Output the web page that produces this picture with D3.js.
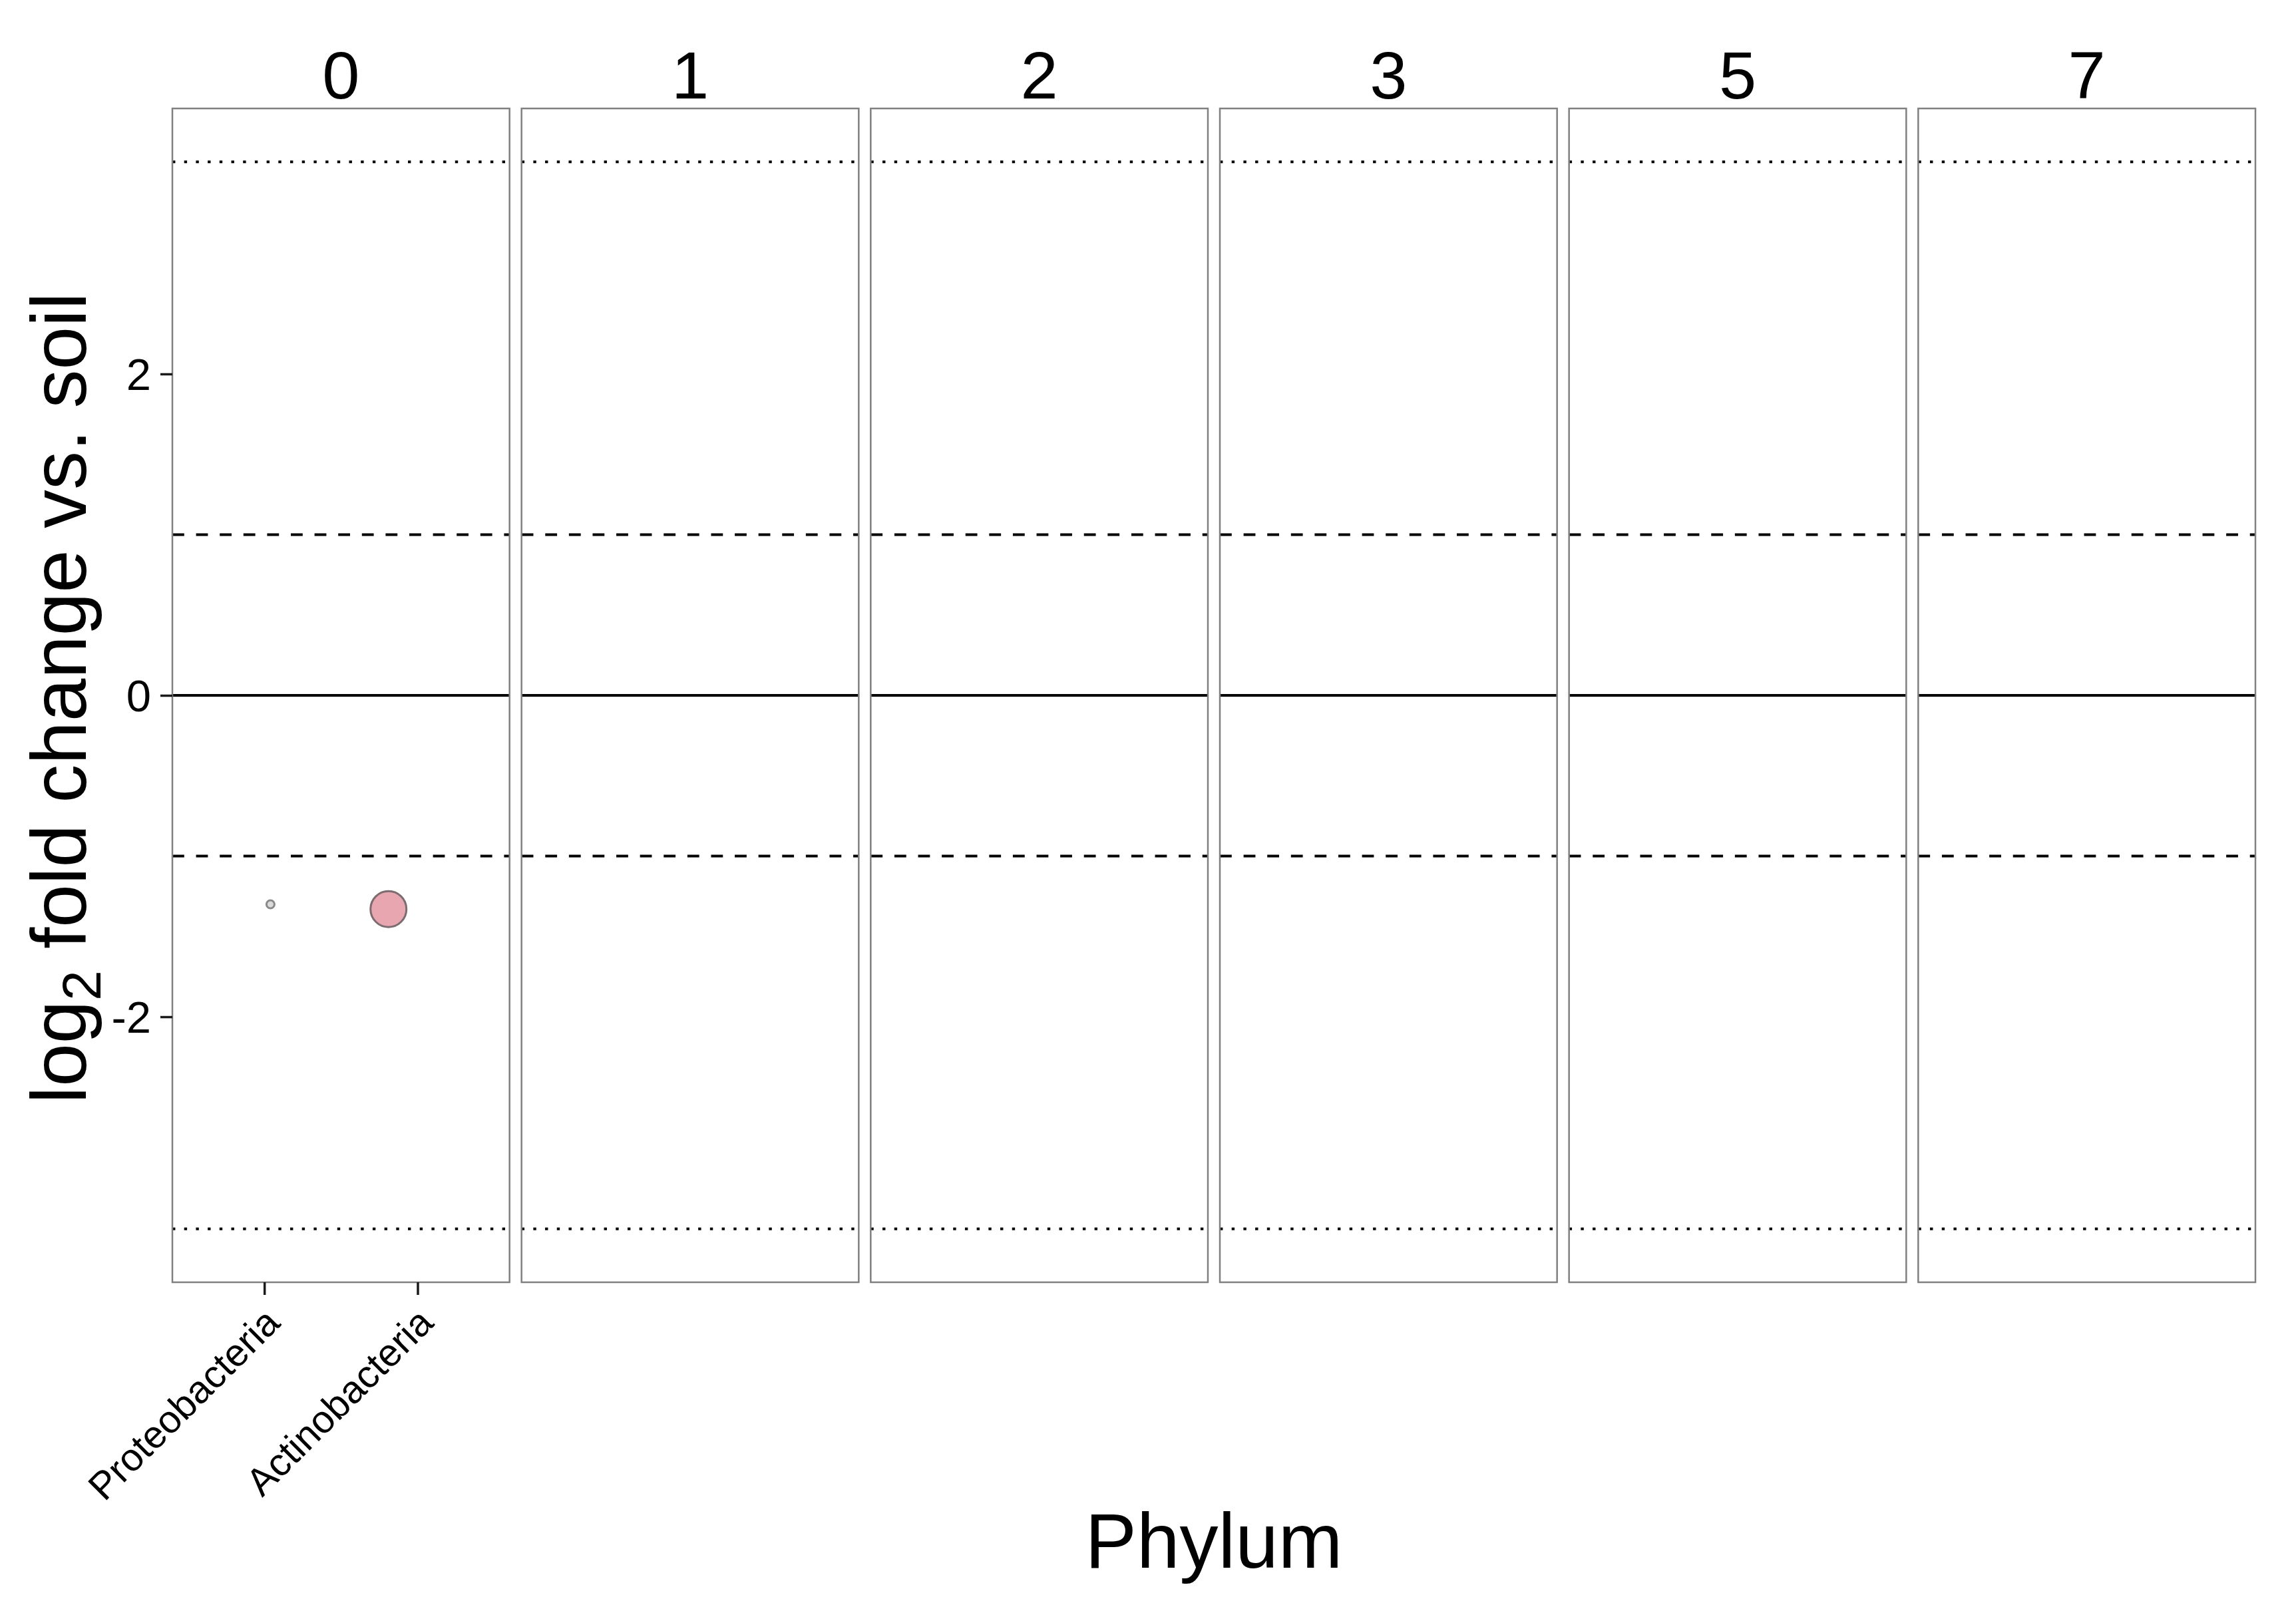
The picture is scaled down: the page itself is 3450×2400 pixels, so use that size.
<!DOCTYPE html>
<html>
<head>
<meta charset="utf-8">
<script src="https://cdn.jsdelivr.net/npm/d3@7"></script>
<style>
  html, body { margin: 0; padding: 0; background: #ffffff; }
  svg text { font-family: "Liberation Sans", Arial, Helvetica, sans-serif; }
</style>
</head>
<body>
<svg id="chart" width="3450" height="2400"></svg>
<script>
// ---- data ----
const facets = ["0", "1", "2", "3", "5", "7"];
const facetCategories = {
  "0": ["Proteobacteria", "Actinobacteria"],
  "1": [], "2": [], "3": [], "5": [], "7": []
};
const pointFacet   = ["0", "0"];
const pointPhylum  = ["Proteobacteria", "Actinobacteria"];
const pointLog2FC  = [-1.30, -1.33];
const pointJitter  = [0.04, -0.19];     // horizontal jitter, in category units
const pointSize    = [0.4, 8.0];        // relative abundance (size aesthetic)
const pointFill    = ["#dadada", "#e8a6b1"];
const pointStroke  = ["#8a8a8a", "#7c6c70"];
const yTicks       = [-2, 0, 2];
const yTickLabels  = ["-2", "0", "2"];
const dottedLines  = [-3.32, 3.32];
const dashedLines  = [-1, 1];
const solidLines   = [0];
const xTitle = "Phylum";

// ---- layout ----
const svg = d3.select("#chart");
const plotLeft = 259, plotRight = 3389, plotTop = 163, plotBottom = 1927;
const gapFrac = 18 / 524.5;

const fx = d3.scaleBand().domain(facets).range([plotLeft, plotRight])
  .paddingInner(gapFrac).paddingOuter(0);

const allH = dottedLines.concat(dashedLines, solidLines, pointLog2FC);
const ext = d3.extent(allH);
const pad = (ext[1] - ext[0]) * 0.05;
const y = d3.scaleLinear().domain([ext[0] - pad, ext[1] + pad]).range([plotBottom, plotTop]);

const r = d3.scaleSqrt().domain([0, 8]).range([0, 27]);

facets.forEach((f, fi) => {
  const x0 = fx(f), w = fx.bandwidth();
  const g = svg.append("g");

  g.append("rect").attr("x", x0).attr("y", plotTop).attr("width", w)
    .attr("height", plotBottom - plotTop).attr("fill", "#ffffff");

  dottedLines.forEach(v => g.append("line")
    .attr("x1", x0).attr("x2", x0 + w).attr("y1", y(v)).attr("y2", y(v))
    .attr("stroke", "#000").attr("stroke-width", 4).attr("stroke-dasharray", "4.4 13.3"));
  dashedLines.forEach(v => g.append("line")
    .attr("x1", x0).attr("x2", x0 + w).attr("y1", y(v)).attr("y2", y(v))
    .attr("stroke", "#000").attr("stroke-width", 3.8).attr("stroke-dasharray", "17.8 17.8"));
  solidLines.forEach(v => g.append("line")
    .attr("x1", x0).attr("x2", x0 + w).attr("y1", y(v)).attr("y2", y(v))
    .attr("stroke", "#000").attr("stroke-width", 4));

  const cats = facetCategories[f];
  const x = d3.scalePoint().domain(cats).range([x0, x0 + w]).padding(0.6);

  pointFacet.forEach((pf, i) => {
    if (pf !== f) return;
    g.append("circle")
      .attr("cx", x(pointPhylum[i]) + pointJitter[i] * x.step())
      .attr("cy", y(pointLog2FC[i]))
      .attr("r", r(pointSize[i]))
      .attr("fill", pointFill[i])
      .attr("stroke", pointStroke[i])
      .attr("stroke-width", 3);
  });

  g.append("rect").attr("x", x0).attr("y", plotTop).attr("width", w)
    .attr("height", plotBottom - plotTop).attr("fill", "none")
    .attr("stroke", "#808080").attr("stroke-width", 2.5);

  g.append("text").attr("x", x0 + w / 2).attr("y", 148)
    .attr("text-anchor", "middle").attr("font-size", 101).attr("fill", "#000").text(f);

  if (cats.length) {
    const xa = g.append("g").attr("transform", `translate(0,${plotBottom})`)
      .call(d3.axisBottom(x).tickSize(19).tickPadding(0));
    xa.select(".domain").remove();
    xa.selectAll(".tick line").attr("stroke", "#1a1a1a").attr("stroke-width", 3.5);
    xa.selectAll(".tick text")
      .attr("font-size", 58).attr("fill", "#000")
      .attr("text-anchor", "end")
      .attr("y", null).attr("dy", null)
      .attr("transform", "translate(26,64) rotate(-45)");
  }

  if (fi === 0) {
    const ya = g.append("g").attr("transform", `translate(${x0},0)`)
      .call(d3.axisLeft(y).tickValues(yTicks).tickSize(18).tickPadding(14)
        .tickFormat((d, i) => yTickLabels[i]));
    ya.select(".domain").remove();
    ya.selectAll(".tick line").attr("stroke", "#1a1a1a").attr("stroke-width", 3.5);
    ya.selectAll(".tick text").attr("font-size", 67).attr("fill", "#000")
      .attr("dy", "0.35em");
  }
});

const yt = svg.append("text")
  .attr("transform", `translate(129,${(plotTop + plotBottom) / 2 + 4}) rotate(-90)`)
  .attr("text-anchor", "middle").attr("font-size", 116).attr("fill", "#000");
yt.append("tspan").text("log");
yt.append("tspan").attr("font-size", 82).attr("dy", 22).text("2");
yt.append("tspan").attr("dy", -22).text(" fold change vs. soil");

svg.append("text").attr("x", (plotLeft + plotRight) / 2).attr("y", 2356)
  .attr("text-anchor", "middle").attr("font-size", 116).attr("fill", "#000").text(xTitle);
</script>
</body>
</html>
